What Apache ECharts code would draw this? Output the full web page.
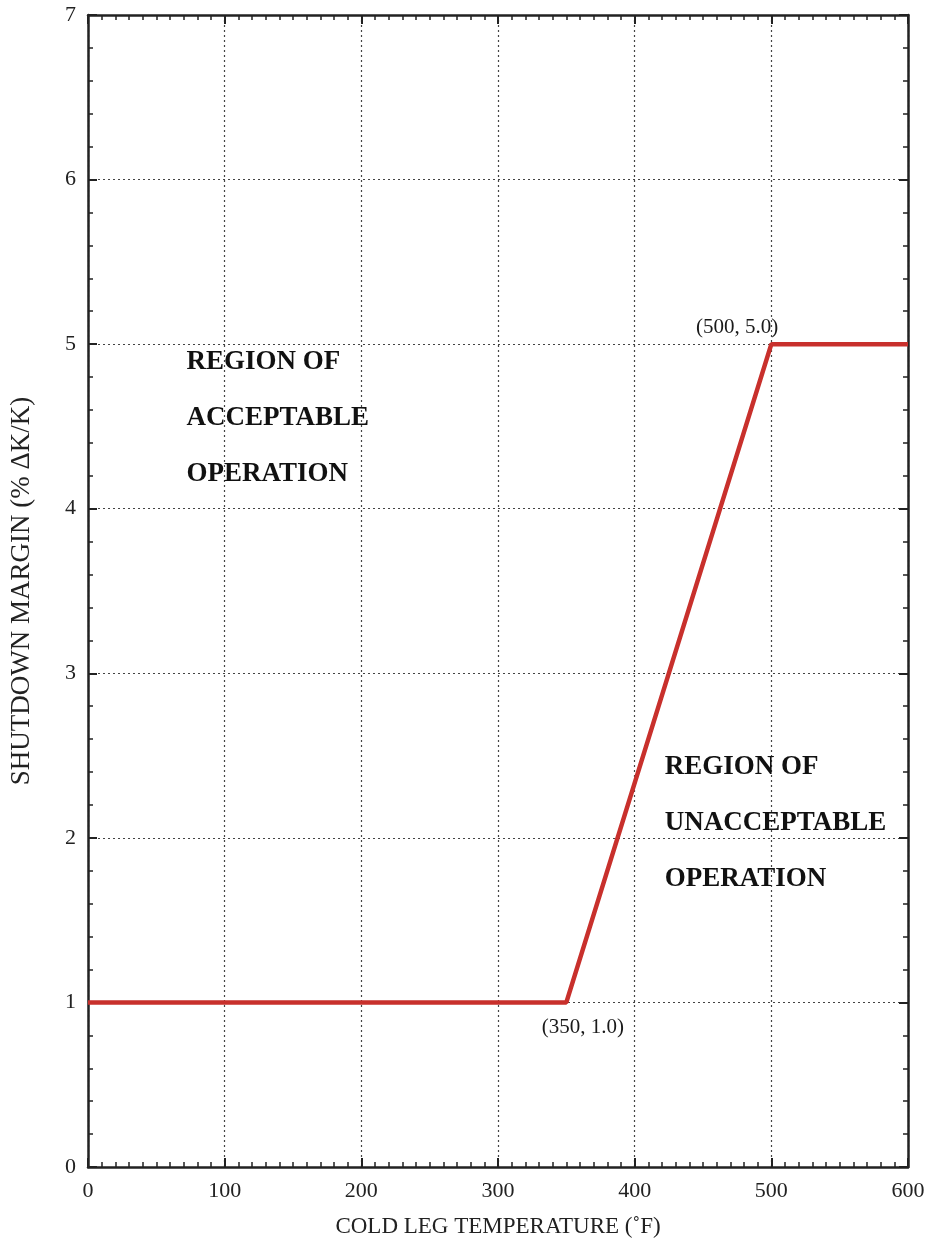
<!DOCTYPE html>
<html>
<head>
<meta charset="utf-8">
<script src="https://cdn.jsdelivr.net/npm/echarts@6/dist/echarts.min.js"></script>
<style>
  html, body { margin: 0; padding: 0; background: #fff; }
  #chart { width: 937px; height: 1243px; }
</style>
</head>
<body>
<div id="chart"></div>
<script>
// limit curve: shutdown margin vs cold leg temperature
const temps = [0, 350, 500, 600];
const margins = [1.0, 1.0, 5.0, 5.0];

// point call-outs [x, y, text, align]
const callouts = [
  [505, 5.1, '(500, 5.0)', 'right'],
  [332, 0.845, '(350, 1.0)', 'left']
];
// region notes [x, y, text]
const regions = [
  [72, 4.55, 'REGION OF\nACCEPTABLE\nOPERATION'],
  [422, 2.09, 'REGION OF\nUNACCEPTABLE\nOPERATION']
];

const serif = "'Liberation Serif', 'Times New Roman', serif";
const ink = '#222';

const chart = echarts.init(document.getElementById('chart'));

function axisBase(pos, splitNum, showLabel) {
  return {
    type: 'value',
    position: pos,
    axisLine: { show: true, onZero: false, lineStyle: { color: ink, width: 2.5 } },
    axisTick: { show: true, inside: true, length: 9, lineStyle: { color: ink, width: 2 } },
    minorTick: { show: true, splitNumber: splitNum, length: 5, lineStyle: { color: ink, width: 1.5 } },
    axisLabel: { show: showLabel, color: ink, fontFamily: serif, fontSize: 22 },
    splitLine: { show: false }
  };
}

const xMain = Object.assign(axisBase('bottom', 10, true), {
  min: 0, max: 600, interval: 100,
  name: 'COLD LEG TEMPERATURE (˚F)',
  nameLocation: 'middle', nameGap: 48,
  nameTextStyle: { color: ink, fontFamily: serif, fontSize: 23 },
  splitLine: { show: true, lineStyle: { color: '#444', type: [2, 3], width: 1.2 } }
});
xMain.axisLabel.margin = 13;
const xTop = Object.assign(axisBase('top', 10, false), { min: 0, max: 600, interval: 100 });

const yMain = Object.assign(axisBase('left', 5, true), {
  min: 0, max: 7, interval: 1,
  name: 'SHUTDOWN MARGIN (% ΔK/K)',
  nameLocation: 'middle', nameGap: 53,
  nameTextStyle: { color: ink, fontFamily: serif, fontSize: 27 },
  splitLine: { show: true, lineStyle: { color: '#444', type: [2, 3], width: 1.2 } }
});
yMain.axisLabel.margin = 12;
const yRight = Object.assign(axisBase('right', 5, false), { min: 0, max: 7, interval: 1 });

chart.setOption({
  backgroundColor: '#fff',
  animation: false,
  grid: { left: 87, right: 29, top: 15, bottom: 76 },
  xAxis: [xMain, xTop],
  yAxis: [yMain, yRight],
  series: [
    {
      name: 'limit',
      type: 'line',
      data: temps.map((t, i) => [t, margins[i]]),
      symbol: 'none',
      lineStyle: { color: '#c8302c', width: 4.5 },
      z: 5
    },
    {
      name: 'callouts',
      type: 'scatter',
      symbolSize: 0,
      itemStyle: { opacity: 1 },
      data: callouts.map(c => ({ value: [c[0], c[1]], name: c[2],
        label: { align: c[3] } })),
      label: {
        show: true, position: [0, 0], verticalAlign: 'middle',
        formatter: p => p.name,
        color: '#1a1a1a', fontFamily: serif, fontSize: 21
      },
      z: 6
    },
    {
      name: 'regions',
      type: 'scatter',
      symbolSize: 0,
      itemStyle: { opacity: 1 },
      data: regions.map(r => ({ value: [r[0], r[1]], name: r[2] })),
      label: {
        show: true, position: [0, 0], align: 'left', verticalAlign: 'middle',
        formatter: p => p.name,
        color: '#111', fontFamily: serif, fontSize: 27, fontWeight: 'bold',
        lineHeight: 56
      },
      z: 6
    }
  ]
});
</script>
</body>
</html>
